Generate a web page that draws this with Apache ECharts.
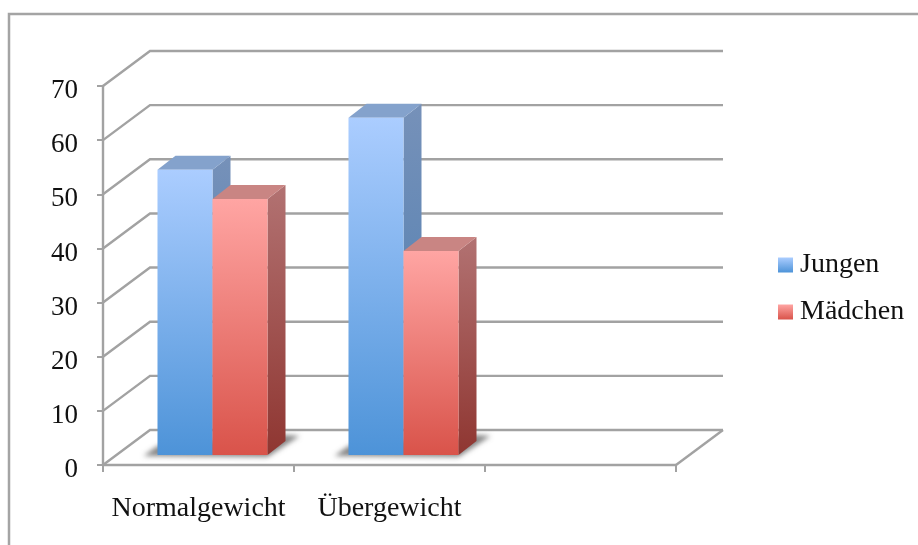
<!DOCTYPE html>
<html>
<head>
<meta charset="utf-8">
<style>html,body{margin:0;padding:0;background:#fff}#chart{width:918px;height:545px}</style>
<script src="https://cdn.jsdelivr.net/npm/echarts@6/dist/echarts.min.js"></script>
</head>
<body>
<div id="chart"></div>
<script>
// Share of boys and girls per weight class, drawn as pseudo-3D columns.
const categories = ['Normalgewicht', 'Übergewicht', ''];
const jungen = [52.7, 62.3];
const maedchen = [47.3, 37.7];
const yTicks = [0, 10, 20, 30, 40, 50, 60, 70];

const FONT = '"Liberation Serif", serif';
const LINE = '#a2a2a2';
const WALL = [47, -35];       // offset of the back wall from the front plane
const INSET = [14, -10];      // columns stand this far into the floor
const DEPTH = [18, -14];      // column depth
const BAR_RATIO = 0.288;      // column width relative to the category band
const OFFSCREEN = 3000;       // shadow casters sit off canvas so only the blur shows

const vGrad = (top, bottom) => ({
  type: 'linear', x: 0, y: 0, x2: 0, y2: 1,
  colorStops: [{ offset: 0, color: top }, { offset: 1, color: bottom }]
});

const palette = {
  Jungen: { front: vGrad('#abcdff', '#4d93d8'), side: vGrad('#7691b9', '#4a7cb0'), top: '#84a2cc' },
  'Mädchen': { front: vGrad('#ffa5a3', '#d9534a'), side: vGrad('#b27272', '#8f3631'), top: '#c98583' }
};

// Back wall, gridlines and floor outline.
function renderWalls(params, api) {
  const rect = params.coordSys;
  const v = api.value(1);
  const p = api.coord([0, v]);
  const x0 = rect.x, x1 = rect.x + rect.width;
  const lineStyle = { stroke: LINE, lineWidth: 2.4, fill: null };
  const children = [{
    type: 'polyline',
    shape: { points: [[x0, p[1]], [x0 + WALL[0], p[1] + WALL[1]], [x1 + WALL[0], p[1] + WALL[1]]] },
    style: lineStyle
  }];
  if (v === 0) {
    children.push({
      type: 'line',
      shape: { x1: x1, y1: p[1], x2: x1 + WALL[0], y2: p[1] + WALL[1] },
      style: lineStyle
    });
  }
  return { type: 'group', children };
}

// Soft shadow cast on the floor by each pair of columns.
function renderShadow(params, api) {
  const i = api.value(0);
  const c = api.coord([i, 0]);
  const w = api.size([1, 0])[0] * BAR_RATIO;
  const base = c[1] + INSET[1];
  const l = c[0] + INSET[0] - w, r = c[0] + INSET[0] + w;
  const pts = [[l - 14, base + 1], [l, base - 9], [r + 18, base - 20], [r + 32, base - 19], [r, base + 2]];
  return {
    type: 'polygon',
    shape: { points: pts.map(p => [p[0] - OFFSCREEN, p[1]]) },
    style: {
      fill: '#000',
      shadowBlur: 5,
      shadowOffsetX: OFFSCREEN,
      shadowColor: 'rgba(105,105,105,0.8)'
    }
  };
}

// One column: side face, top face, then the front face over them.
function renderBar(name, slot) {
  return function (params, api) {
    const i = api.value(0);
    const b = api.coord([i, 0]);
    const t = api.coord([i, api.value(1)]);
    const w = api.size([1, 0])[0] * BAR_RATIO;
    const l = b[0] + INSET[0] + slot * w, r = l + w;
    const yb = b[1] + INSET[1], yt = t[1] + INSET[1];
    const [dx, dy] = DEPTH;
    const c = palette[name];
    return {
      type: 'group',
      children: [
        { type: 'polygon', shape: { points: [[r, yb], [r + dx, yb + dy], [r + dx, yt + dy], [r, yt]] }, style: { fill: c.side } },
        { type: 'polygon', shape: { points: [[l, yt], [l + dx, yt + dy], [r + dx, yt + dy], [r, yt]] }, style: { fill: c.top } },
        { type: 'rect', shape: { x: l, y: yt, width: w, height: yb - yt }, style: { fill: c.front } }
      ]
    };
  };
}

const chart = echarts.init(document.getElementById('chart'), null, { renderer: 'canvas' });
chart.setOption({
  animation: false,
  backgroundColor: '#fff',
  graphic: [{
    type: 'polyline',
    silent: true,
    shape: { points: [[9, 545], [9, 14], [918, 14]] },
    style: { stroke: '#a4a4a4', lineWidth: 2.5, fill: null }
  }],
  grid: { left: 103, top: 86, width: 573, height: 379, containLabel: false },
  xAxis: {
    type: 'category',
    data: categories,
    axisLine: { lineStyle: { color: LINE, width: 2.4 } },
    axisTick: { show: true, alignWithLabel: false, length: 7, lineStyle: { color: LINE, width: 2 } },
    axisLabel: { interval: 0, margin: 30, color: '#111', fontFamily: FONT, fontSize: 28, hideOverlap: false },
    splitLine: { show: false }
  },
  yAxis: {
    type: 'value',
    min: 0,
    max: 70,
    interval: 10,
    axisLine: { show: true, lineStyle: { color: LINE, width: 2.4 } },
    axisTick: { show: true, length: 6, lineStyle: { color: LINE, width: 2 } },
    axisLabel: {
      margin: 25,
      color: '#111',
      fontFamily: FONT,
      fontSize: 27,
      formatter: v => '{n|' + v + '}',
      rich: { n: { fontFamily: FONT, fontSize: 27, color: '#111', padding: [10, 0, 0, 0] } }
    },
    splitLine: { show: false }
  },
  legend: {
    orient: 'vertical',
    left: 773,
    top: 246,
    itemWidth: 15,
    itemHeight: 15,
    itemGap: 19,
    icon: 'rect',
    selectedMode: false,
    data: ['Jungen', 'Mädchen'],
    textStyle: { color: '#111', fontFamily: FONT, fontSize: 28, padding: [0, 0, 0, 2] }
  },
  series: [
    {
      type: 'custom', name: 'Gitter', silent: true, z: 1,
      renderItem: renderWalls,
      data: yTicks.map(v => [0, v])
    },
    {
      type: 'custom', name: 'Schatten', silent: true, z: 2,
      renderItem: renderShadow,
      data: jungen.map((_, i) => [i, 0])
    },
    {
      type: 'custom', name: 'Jungen', z: 3,
      renderItem: renderBar('Jungen', -1),
      itemStyle: { color: palette.Jungen.front },
      data: jungen.map((v, i) => [i, v])
    },
    {
      type: 'custom', name: 'Mädchen', z: 4,
      renderItem: renderBar('Mädchen', 0),
      itemStyle: { color: palette['Mädchen'].front },
      data: maedchen.map((v, i) => [i, v])
    }
  ]
});
</script>
</body>
</html>
